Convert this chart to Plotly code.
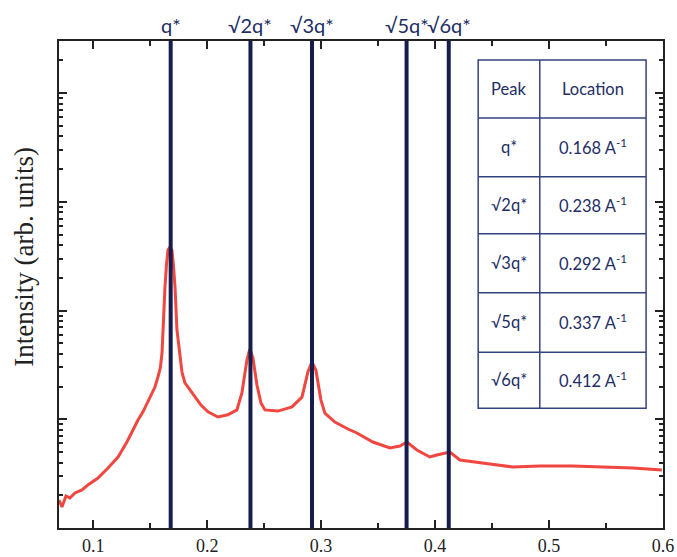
import plotly.graph_objects as go

# Scattering curve (q in 1/A, intensity arb. units, log scale)
q_values = [0.0700, 0.0726, 0.0761, 0.0796, 0.0840, 0.0902, 0.0954, 0.1042, 0.1130, 0.1174,
            0.1218, 0.1296, 0.1340, 0.1393, 0.1437, 0.1472, 0.1507, 0.1542, 0.1568, 0.1589,
            0.1604, 0.1612, 0.1630, 0.1643, 0.1656, 0.1674, 0.1691, 0.1704, 0.1718, 0.1735,
            0.1761, 0.1779, 0.1805, 0.1849, 0.1893, 0.1946, 0.2007, 0.2095, 0.2182, 0.2261,
            0.2305, 0.2349, 0.2375, 0.2402, 0.2437, 0.2472, 0.2507, 0.2621, 0.2744, 0.2832,
            0.2884, 0.2919, 0.2954, 0.2998, 0.3033, 0.3121, 0.3235, 0.3314, 0.3454, 0.3604,
            0.3691, 0.3753, 0.3840, 0.3954, 0.4016, 0.4130, 0.4218, 0.4332, 0.4481, 0.4683,
            0.4919, 0.5209, 0.5507, 0.5735, 0.5990]
intensity = [1.81, 1.56, 1.97, 1.89, 2.10, 2.24, 2.49, 2.88, 3.56, 3.96,
             4.50, 6.18, 7.64, 9.86, 11.7, 14.1, 16.7, 19.8, 24.5, 29.6,
             40.7, 66.3, 165, 262, 361, 385, 361, 262, 165, 66.3,
             40.7, 27.2, 21.6, 18.6, 16.0, 13.5, 11.7, 10.5, 11.0, 12.2,
             17.5, 35.1, 44.4, 36.6, 20.7, 14.1, 12.2, 11.9, 13.0, 16.0,
             27.2, 33.7, 28.4, 15.1, 11.4, 9.44, 8.14, 7.48, 6.18, 5.45,
             5.68, 6.18, 5.22, 4.50, 4.70, 5.00, 4.22, 4.05, 3.88, 3.64,
             3.72, 3.72, 3.64, 3.56, 3.42]

# Peak markers
peak_labels = ["q*", "√2q*", "√3q*", "√5q*", "√6q*"]
peak_positions = [0.168, 0.238, 0.292, 0.375, 0.412]

# Table contents
table_header = ["Peak", "Location"]
table_peaks = ["q*", "√2q*", "√3q*", "√5q*", "√6q*"]
table_locations = ["0.168", "0.238", "0.292", "0.337", "0.412"]

x_ticks = [0.1, 0.2, 0.3, 0.4, 0.5, 0.6]

NAVY = "#161d4e"
TEXTNAVY = "#232d66"
TABLELINE = "#34427e"
SANS = "Lato, Noto Sans, sans-serif"
SERIF = "Liberation Serif, Times New Roman, serif"

fig = go.Figure()
fig.add_trace(go.Scatter(x=q_values, y=intensity, mode="lines",
                         line=dict(color="#f04740", width=3), showlegend=False,
                         hoverinfo="skip"))

for pos, lab in zip(peak_positions, peak_labels):
    fig.add_vline(x=pos, line=dict(color=NAVY, width=4), layer="above")
    fig.add_annotation(x=pos, xref="x", y=1.0, yref="paper", yshift=2,
                       text=lab, showarrow=False, xanchor="center", yanchor="bottom",
                       font=dict(family=SANS, size=20, color=TEXTNAVY))

# Table geometry (paper coordinates)
tx0, tx1, tcol = 0.694, 0.972, 0.796
row_edges = [0.961, 0.842, 0.721, 0.604, 0.483, 0.361, 0.246]
fig.add_shape(type="rect", xref="paper", yref="paper", x0=tx0, x1=tx1,
              y0=row_edges[-1], y1=row_edges[0],
              line=dict(color=TABLELINE, width=1.5), fillcolor="white", layer="above")
fig.add_shape(type="line", xref="paper", yref="paper", x0=tcol, x1=tcol,
              y0=row_edges[-1], y1=row_edges[0], line=dict(color=TABLELINE, width=1.5))
for ry in row_edges[1:-1]:
    fig.add_shape(type="line", xref="paper", yref="paper", x0=tx0, x1=tx1,
                  y0=ry, y1=ry, line=dict(color=TABLELINE, width=1.5))

tfont = dict(family=SANS, size=16.5, color=TEXTNAVY)
rows = [table_header] + [[p, f"{loc} A<sup>-1</sup>"] for p, loc in zip(table_peaks, table_locations)]
for i, (c1, c2) in enumerate(rows):
    yc = (row_edges[i] + row_edges[i + 1]) / 2
    fig.add_annotation(x=(tx0 + tcol) / 2, y=yc, xref="paper", yref="paper", text=c1,
                       showarrow=False, font=tfont, xanchor="center", yanchor="middle")
    fig.add_annotation(x=(tcol + tx1) / 2, y=yc, xref="paper", yref="paper", text=c2,
                       showarrow=False, font=tfont, xanchor="center", yanchor="middle")

# y-axis title
fig.add_annotation(x=-0.057, y=0.556, xref="paper", yref="paper", text="Intensity (arb. units)",
                   textangle=-90, showarrow=False, xanchor="center", yanchor="middle",
                   font=dict(family=SERIF, size=27, color="#222"))

fig.update_layout(
    width=677, height=557,
    margin=dict(l=59, r=14, t=41, b=29, autoexpand=False),
    plot_bgcolor="white", paper_bgcolor="white",
    showlegend=False,
    xaxis=dict(range=[0.07, 0.6], tickvals=x_ticks, ticktext=[str(v) for v in x_ticks],
               ticks="inside", ticklen=8, tickwidth=2, tickcolor="#222",
               showline=True, linecolor="#222", linewidth=2, mirror="allticks",
               showgrid=False, zeroline=False, ticklabeloverflow="allow",
               minor=dict(dtick=0.05, ticks="inside", ticklen=5, tickwidth=1.5, tickcolor="#222", showgrid=False),
               tickfont=dict(family=SERIF, size=18, color="#222")),
    yaxis=dict(type="log", range=[0, 4.48], dtick=1, showticklabels=False,
               ticks="inside", ticklen=8, tickwidth=2, tickcolor="#222",
               showline=True, linecolor="#222", linewidth=2, mirror="allticks",
               showgrid=False, zeroline=False,
               minor=dict(dtick="D1", ticks="inside", ticklen=4, tickwidth=1.5, tickcolor="#222", showgrid=False)),
)

fig.write_html("out.html", config={"displayModeBar": False},
               post_script="document.body.style.margin='0';document.body.style.overflow='hidden';")
